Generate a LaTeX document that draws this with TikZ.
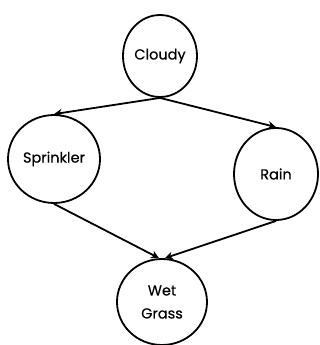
\documentclass[tikz,border=0pt]{standalone}
\usepackage{fontspec}
\setmainfont{Poppins}[FakeBold=0.4]
\usetikzlibrary{arrows.meta,shapes.geometric}
\begin{document}
\begin{tikzpicture}[x=1pt,y=-1pt,
  bnode/.style={draw=black,line width=1.8pt,ellipse,inner sep=0pt,font=\fontsize{14.5}{23}\selectfont,align=center},
  edge/.style={line width=1.8pt,-{Stealth[length=8pt,width=8pt]}}]
\useasboundingbox (0,0) rectangle (320,345);
\node[bnode,minimum width=74pt,minimum height=82pt] (c) at (160,56) {Cloudy};
\node[bnode,minimum width=92pt,minimum height=88pt] (s) at (54,159) {Sprinkler};
\node[bnode,minimum width=84pt,minimum height=92pt] (r) at (276,174) {Rain};
\node[bnode,minimum width=90pt,minimum height=86pt] (w) at (162,302) {Wet\\Grass};
\draw[edge] (c.south) -- (s.north);
\draw[edge] (c.south) -- (r.north);
\draw[edge] (s.south) -- ([xshift=-3pt]w.north);
\draw[edge] (r.south) -- ([xshift=3pt]w.north);
\end{tikzpicture}
\end{document}
